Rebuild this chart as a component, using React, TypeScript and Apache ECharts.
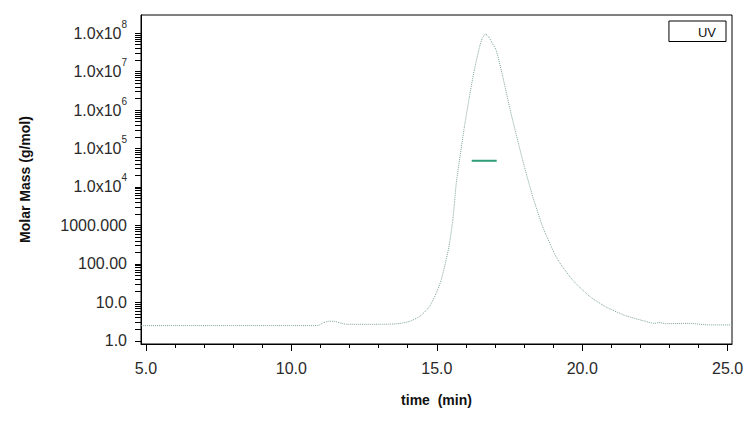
import React, { useEffect, useRef } from "react";
import * as echarts from "echarts";

// elution time (min)
const timeMin = [
  4.83, 6.0, 8.0, 10.0, 10.9, 11.1, 11.3, 11.5, 11.7, 11.9, 12.5, 13.0, 13.5, 13.8, 14.06,
  14.41, 14.75, 14.98, 15.15, 15.32, 15.44, 15.55, 15.61, 15.67, 15.8, 15.95, 16.12, 16.29, 16.47,
  16.57, 16.67, 16.77, 16.88, 17.04, 17.27, 17.5, 17.75, 18.01, 18.3, 18.64, 19.04, 19.21,
  19.67, 20.26, 20.82, 21.5, 22.19, 22.47, 22.64, 22.87, 23.67, 24.36, 25.15,
];
// UV trace plotted on molar-mass log scale
const uvTrace = [
  2.5, 2.5, 2.5, 2.5, 2.5, 2.95, 3.25, 3.2, 2.9, 2.7, 2.7, 2.7, 2.75, 2.9, 3.2,
  4.3, 7.8, 17.4, 38, 126, 346, 1390, 4000, 1.26e4, 6.3e4, 3.7e5, 2.2e6, 1.1e7, 4.4e7,
  7.4e7, 9.4e7, 8.3e7, 5.9e7, 3.6e7, 7.3e6, 1.2e6, 2.0e5, 3.4e4, 5.6e3, 930, 190, 112,
  38, 14.3, 7.6, 4.5, 3.2, 2.85, 3.0, 2.8, 2.85, 2.6, 2.6,
];
// molar mass across the peak
const mmTime = [16.2, 17.06];
const mmValue = [4.8e4, 4.8e4];

const xLabelValues = [5, 10, 15, 20, 25];
const xMinorTicks = [6, 7, 8, 9, 11, 12, 13, 14, 16, 17, 18, 19, 21, 22, 23, 24];
const yLabelValues = [1, 10, 100, 1000, 1e4, 1e5, 1e6, 1e7, 1e8];
const yTickValues = [
  1, 2, 3, 4, 5, 6, 7, 8, 9,
  10, 20, 30, 40, 50, 60, 70, 80, 90,
  100, 200, 300, 400, 500, 600, 700, 800, 900,
  1000, 2000, 3000, 4000, 5000, 6000, 7000, 8000, 9000,
  1e4, 2e4, 3e4, 4e4, 5e4, 6e4, 7e4, 8e4, 9e4,
  1e5, 2e5, 3e5, 4e5, 5e5, 6e5, 7e5, 8e5, 9e5,
  1e6, 2e6, 3e6, 4e6, 5e6, 6e6, 7e6, 8e6, 9e6,
  1e7, 2e7, 3e7, 4e7, 5e7, 6e7, 7e7, 8e7, 9e7,
  1e8,
];
const yLabelText: Record<number, string> = {
  0: "1.0",
  1: "10.0",
  2: "100.00",
  3: "1000.000",
  4: "1.0x10{s|4}",
  5: "1.0x10{s|5}",
  6: "1.0x10{s|6}",
  7: "1.0x10{s|7}",
  8: "1.0x10{s|8}",
};

const FONT = "Arial, 'Liberation Sans', sans-serif";

export default function App() {
  const ref = useRef<HTMLDivElement>(null);
  useEffect(() => {
    if (!ref.current) return;
    const chart = echarts.init(ref.current, undefined, { renderer: "svg" });
    const xMin = 4.83;
    const xMax = 25.15;
    chart.setOption({
      animation: false,
      backgroundColor: "#fff",
      grid: {
        left: 141,
        right: 24,
        top: 15,
        bottom: 78,
        show: true,
        borderColor: "#000",
        borderWidth: 1,
        backgroundColor: "transparent",
      },
      legend: {
        data: [{ name: "UV", icon: "none" }],
        right: 30,
        top: 21,
        orient: "horizontal",
        itemWidth: 14,
        itemGap: 0,
        padding: [4, 10, 3, 10],
        borderColor: "#000",
        borderWidth: 1,
        backgroundColor: "#fff",
        selectedMode: false,
        textStyle: { fontSize: 13, color: "#111", fontFamily: FONT },
      },
      xAxis: [
        {
          type: "value",
          min: xMin,
          max: xMax,
          position: "bottom",
          axisLine: { show: true, lineStyle: { color: "#000", width: 1 } },
          axisTick: {
            show: true,
            length: 7,
            customValues: xLabelValues,
            lineStyle: { color: "#000", width: 1 },
          },
          axisLabel: {
            customValues: xLabelValues,
            formatter: (v: number) => v.toFixed(1),
            margin: 16,
            fontSize: 16,
            color: "#2a2a2a",
            fontFamily: FONT,
          },
          splitLine: { show: false },
          name: "time  (min)",
          nameLocation: "middle",
          nameGap: 49,
          nameTextStyle: { fontSize: 14, fontWeight: "bold", color: "#111", fontFamily: FONT },
        },
        {
          type: "value",
          min: xMin,
          max: xMax,
          position: "bottom",
          axisLine: { show: false },
          axisTick: {
            show: true,
            length: 4,
            customValues: xMinorTicks,
            lineStyle: { color: "#000", width: 1 },
          },
          axisLabel: { show: false },
          splitLine: { show: false },
        },
      ],
      yAxis: {
        type: "log",
        logBase: 10,
        min: 0.83,
        max: 2.95e8,
        axisLine: { show: true, lineStyle: { color: "#000", width: 1 } },
        axisTick: {
          show: true,
          length: 6,
          customValues: yTickValues,
          lineStyle: { color: "#000", width: 1 },
        },
        axisLabel: {
          customValues: yLabelValues,
          margin: 14,
          fontSize: 16,
          color: "#2a2a2a",
          fontFamily: FONT,
          formatter: (v: number) => yLabelText[Math.round(Math.log10(v))] ?? "",
          rich: {
            s: { fontSize: 10, color: "#2a2a2a", fontFamily: FONT, padding: [0, 0, 18, 0] },
          },
        },
        splitLine: { show: false },
        minorSplitLine: { show: false },
        name: "Molar Mass (g/mol)",
        nameLocation: "middle",
        nameGap: 109,
        nameTextStyle: { fontSize: 14, fontWeight: "bold", color: "#111", fontFamily: FONT },
      },
      series: [
        {
          name: "UV",
          type: "line",
          xAxisIndex: 0,
          showSymbol: false,
          symbol: "none",
          smooth: 0.2,
          data: timeMin.map((t, i) => [t, uvTrace[i]]),
          lineStyle: { color: "#7fa39d", width: 1, type: "dotted" },
          itemStyle: { color: "#7fa39d" },
        },
        {
          name: "Molar Mass",
          type: "line",
          xAxisIndex: 0,
          showSymbol: false,
          symbol: "none",
          data: mmTime.map((t, i) => [t, mmValue[i]]),
          lineStyle: { color: "#2f9e78", width: 2 },
          itemStyle: { color: "#2f9e78" },
        },
      ],
    });
    return () => chart.dispose();
  }, []);
  return (
    <div
      ref={ref}
      style={{ position: "absolute", left: 0, top: 0, width: 756, height: 422 }}
    />
  );
}
